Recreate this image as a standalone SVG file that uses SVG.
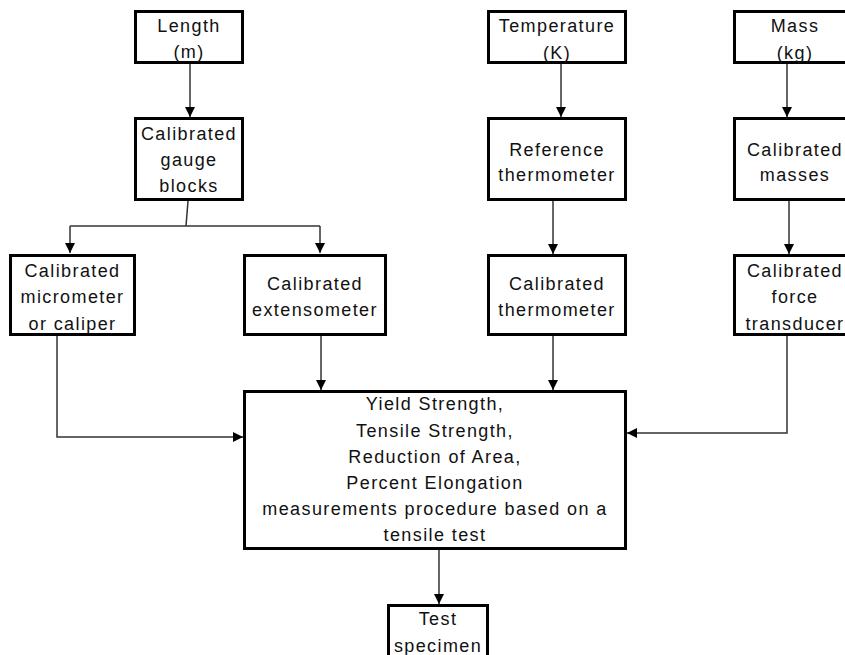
<svg xmlns="http://www.w3.org/2000/svg" width="845" height="655" viewBox="0 0 845 655">
<defs>
<style>
.box{fill:#fff;stroke:#000;stroke-width:3}
text{font-family:"Liberation Sans",Arial,sans-serif;font-size:18px;letter-spacing:1.4px;fill:#111;text-anchor:middle}
.c{fill:none;stroke:#333;stroke-width:1.5}
</style>
<marker id="ah" markerUnits="userSpaceOnUse" markerWidth="11" markerHeight="11" refX="10" refY="5" orient="auto">
<path d="M0,0 L10,5 L0,10 z" fill="#000"/>
</marker>
</defs>
<rect width="845" height="655" fill="#fff"/>
<g id="connectors">
<line class="c" x1="190" y1="64" x2="190" y2="117" marker-end="url(#ah)"/>
<line class="c" x1="188" y1="201" x2="186" y2="226"/>
<line class="c" x1="70" y1="226" x2="320" y2="226"/>
<line class="c" x1="70" y1="226" x2="70" y2="253" marker-end="url(#ah)"/>
<line class="c" x1="320" y1="226" x2="320" y2="253" marker-end="url(#ah)"/>
<line class="c" x1="321" y1="336" x2="321" y2="390" marker-end="url(#ah)"/>
<path class="c" d="M57,336 V437 H243" marker-end="url(#ah)"/>
<line class="c" x1="561" y1="64" x2="561" y2="117" marker-end="url(#ah)"/>
<line class="c" x1="553" y1="201" x2="553" y2="254" marker-end="url(#ah)"/>
<line class="c" x1="553" y1="336" x2="553" y2="390" marker-end="url(#ah)"/>
<line class="c" x1="787" y1="64" x2="787" y2="117" marker-end="url(#ah)"/>
<line class="c" x1="789" y1="201" x2="789" y2="254" marker-end="url(#ah)"/>
<path class="c" d="M787,336 V433 H627" marker-end="url(#ah)"/>
<line class="c" x1="439" y1="550" x2="439" y2="604" marker-end="url(#ah)"/>
</g>
<g id="length">
<rect class="box" x="135.5" y="11.5" width="107" height="51"/>
<text x="189" y="32">Length</text>
<text x="189" y="58">(m)</text>
</g>
<g id="gauge">
<rect class="box" x="135.5" y="118.5" width="107" height="81"/>
<text x="189" y="140">Calibrated</text>
<text x="189" y="166">gauge</text>
<text x="189" y="192">blocks</text>
</g>
<g id="micrometer">
<rect class="box" x="10.5" y="255.5" width="124" height="79"/>
<text x="72.5" y="277">Calibrated</text>
<text x="72.5" y="303">micrometer</text>
<text x="72.5" y="330">or caliper</text>
</g>
<g id="extensometer">
<rect class="box" x="244.5" y="255.5" width="141" height="79"/>
<text x="315" y="290">Calibrated</text>
<text x="315" y="316">extensometer</text>
</g>
<g id="temperature">
<rect class="box" x="488.5" y="11.5" width="137" height="51"/>
<text x="557" y="32">Temperature</text>
<text x="557" y="59">(K)</text>
</g>
<g id="refthermo">
<rect class="box" x="488.5" y="118.5" width="137" height="81"/>
<text x="557" y="156">Reference</text>
<text x="557" y="181">thermometer</text>
</g>
<g id="calthermo">
<rect class="box" x="488.5" y="255.5" width="137" height="79"/>
<text x="557" y="290">Calibrated</text>
<text x="557" y="316">thermometer</text>
</g>
<g id="mass">
<rect class="box" x="734.5" y="11.5" width="121" height="51"/>
<text x="795" y="32">Mass</text>
<text x="795" y="59">(kg)</text>
</g>
<g id="masses">
<rect class="box" x="734.5" y="118.5" width="121" height="81"/>
<text x="795" y="156">Calibrated</text>
<text x="795" y="181">masses</text>
</g>
<g id="force">
<rect class="box" x="734.5" y="255.5" width="121" height="79"/>
<text x="795" y="277">Calibrated</text>
<text x="795" y="303">force</text>
<text x="795" y="330">transducer</text>
</g>
<g id="procedure">
<rect class="box" x="244.5" y="391.5" width="381" height="157"/>
<text x="435" y="410">Yield Strength,</text>
<text x="435" y="437">Tensile Strength,</text>
<text x="435" y="463">Reduction of Area,</text>
<text x="435" y="489">Percent Elongation</text>
<text x="435" y="515">measurements procedure based on a</text>
<text x="435" y="541">tensile test</text>
</g>
<g id="specimen">
<rect class="box" x="388.5" y="605.5" width="99" height="60"/>
<text x="438" y="625">Test</text>
<text x="438" y="652">specimen</text>
</g>
</svg>
